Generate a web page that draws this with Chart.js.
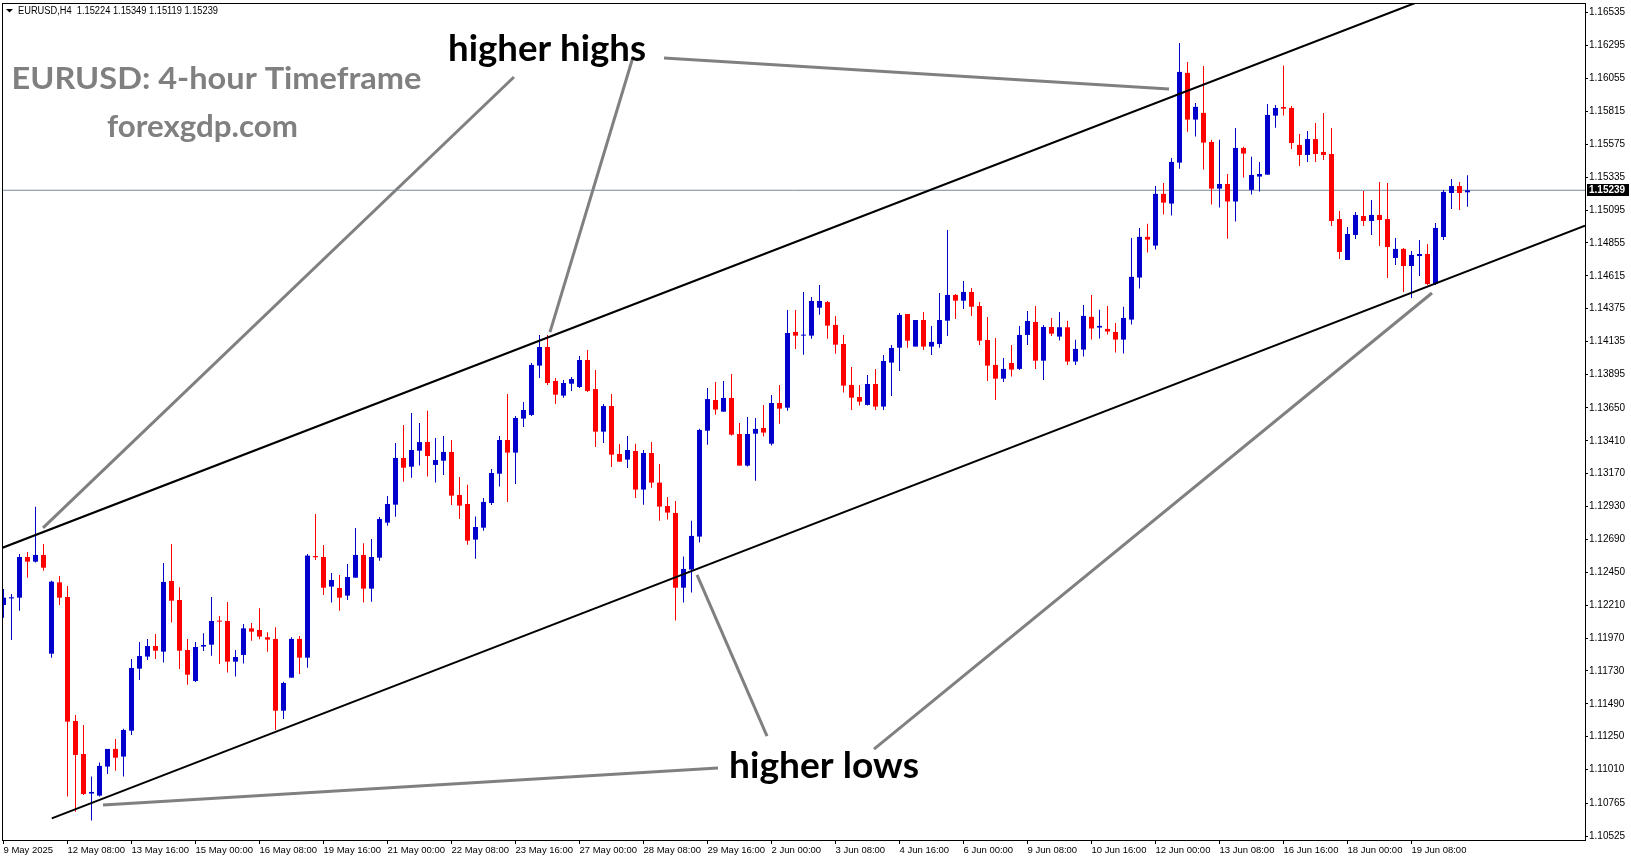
<!DOCTYPE html>
<html>
<head>
<meta charset="utf-8">
<script src="https://cdn.jsdelivr.net/npm/chart.js"></script>
<style>
  html, body { margin: 0; padding: 0; background: #fff; }
</style>
</head>
<body>
<canvas id="myChart" width="1631" height="861"></canvas>
<script>
// EURUSD H4 candles, 9 May 2025 00:00 .. 20 Jun 2025 12:00 (one entry per 4h bar)
const opens = [
  1.12212, 1.12260, 1.12265, 1.12562, 1.12528, 1.12577, 1.11856, 1.12377, 1.12270, 1.11365,
  1.11124, 1.10835, 1.10820, 1.11032, 1.11161, 1.11105, 1.11294, 1.11747, 1.11835, 1.11912,
  1.11871, 1.12387, 1.12248, 1.11883, 1.11657, 1.11908, 1.11922, 1.12095, 1.12095, 1.11798,
  1.11847, 1.12041, 1.12029, 1.11976, 1.11964, 1.11440, 1.11681, 1.11964, 1.11827, 1.12569,
  1.12562, 1.12346, 1.12336, 1.12280, 1.12411, 1.12577, 1.12331, 1.12557, 1.12813, 1.12944,
  1.13285, 1.13221, 1.13338, 1.13402, 1.13234, 1.13265, 1.13329, 1.13015, 1.12949, 1.12689,
  1.12776, 1.12956, 1.13170, 1.13416, 1.13324, 1.13572, 1.13599, 1.13959, 1.14095, 1.13847,
  1.13740, 1.13827, 1.13803, 1.14000, 1.13788, 1.13477, 1.13664, 1.13314, 1.13273, 1.13336,
  1.13054, 1.13321, 1.13105, 1.12934, 1.12883, 1.12338, 1.12470, 1.12711, 1.13484, 1.13708,
  1.13623, 1.13723, 1.13460, 1.13229, 1.13462, 1.13504, 1.13389, 1.13686, 1.13652, 1.14205,
  1.14178, 1.14178, 1.14382, 1.14423, 1.14256, 1.14117, 1.13818, 1.13730, 1.13672, 1.13825,
  1.13660, 1.13981, 1.14090, 1.14336, 1.14098, 1.14292, 1.14098, 1.14117, 1.14287, 1.14475,
  1.14433, 1.14497, 1.14394, 1.14146, 1.13964, 1.13864, 1.13978, 1.13935, 1.14183, 1.14278,
  1.13995, 1.14241, 1.14171, 1.14239, 1.13989, 1.14076, 1.14315, 1.14237, 1.14227, 1.14205,
  1.14149, 1.14295, 1.14602, 1.14899, 1.14835, 1.15213, 1.15142, 1.15441, 1.16096, 1.15755,
  1.15804, 1.15592, 1.15251, 1.15285, 1.15157, 1.15548, 1.15242, 1.15339, 1.15353, 1.15784,
  1.15847, 1.15840, 1.15570, 1.15497, 1.15613, 1.15519, 1.15504, 1.15029, 1.14730, 1.14913,
  1.15051, 1.15015, 1.15059, 1.15029, 1.14745, 1.14811, 1.14686, 1.14759, 1.14774, 1.14555,
  1.14898, 1.15219, 1.15270, 1.15224
];
const highs = [
  1.12328, 1.12292, 1.12584, 1.12598, 1.12929, 1.12657, 1.12389, 1.12423, 1.12350, 1.11409,
  1.11336, 1.10959, 1.11061, 1.11161, 1.11234, 1.11309, 1.11818, 1.11942, 1.11963, 1.12000,
  1.12518, 1.12657, 1.12341, 1.11963, 1.11942, 1.12005, 1.12270, 1.12131, 1.12234, 1.11883,
  1.12073, 1.12080, 1.12187, 1.12012, 1.12049, 1.11652, 1.11976, 1.11985, 1.12584, 1.12876,
  1.12650, 1.12445, 1.12431, 1.12511, 1.12774, 1.12662, 1.12693, 1.12854, 1.13007, 1.13394,
  1.13526, 1.13613, 1.13540, 1.13630, 1.13431, 1.13445, 1.13416, 1.13146, 1.13090, 1.12857,
  1.12993, 1.13204, 1.13445, 1.13752, 1.13591, 1.13694, 1.13978, 1.14183, 1.14183, 1.13869,
  1.13854, 1.13876, 1.14029, 1.14073, 1.13927, 1.13679, 1.13752, 1.13387, 1.13445, 1.13389,
  1.13343, 1.13402, 1.13241, 1.13000, 1.12971, 1.12565, 1.12827, 1.13499, 1.13796, 1.13840,
  1.13847, 1.13898, 1.13540, 1.13584, 1.13577, 1.13672, 1.13745, 1.13818, 1.14365, 1.14365,
  1.14496, 1.14460, 1.14548, 1.14431, 1.14321, 1.14183, 1.13949, 1.13818, 1.13891, 1.13935,
  1.14037, 1.14110, 1.14343, 1.14336, 1.14292, 1.14351, 1.14248, 1.14489, 1.14949, 1.14482,
  1.14577, 1.14526, 1.14424, 1.14314, 1.14161, 1.14015, 1.14110, 1.14248, 1.14358, 1.14394,
  1.14256, 1.14307, 1.14351, 1.14286, 1.14147, 1.14402, 1.14475, 1.14366, 1.14395, 1.14271,
  1.14388, 1.14891, 1.14964, 1.14994, 1.15271, 1.15293, 1.15475, 1.16315, 1.16176, 1.15877,
  1.16147, 1.15607, 1.15607, 1.15358, 1.15694, 1.15556, 1.15483, 1.15446, 1.15869, 1.15862,
  1.16150, 1.15854, 1.15650, 1.15672, 1.15730, 1.15803, 1.15694, 1.15088, 1.14971, 1.15081,
  1.15234, 1.15168, 1.15300, 1.15292, 1.14891, 1.14818, 1.14796, 1.14876, 1.14847, 1.15000,
  1.15241, 1.15321, 1.15300, 1.15349
];
const lows = [
  1.12119, 1.11956, 1.12170, 1.12411, 1.12521, 1.12462, 1.11827, 1.12212, 1.10813, 1.10703,
  1.10825, 1.10638, 1.10813, 1.10978, 1.11002, 1.10959, 1.11263, 1.11664, 1.11810, 1.11818,
  1.11791, 1.12083, 1.11745, 1.11630, 1.11650, 1.11876, 1.11842, 1.11781, 1.11718, 1.11689,
  1.11784, 1.11951, 1.11961, 1.11871, 1.11299, 1.11380, 1.11681, 1.11708, 1.11754, 1.12540,
  1.12285, 1.12229, 1.12170, 1.12248, 1.12411, 1.12229, 1.12236, 1.12535, 1.12791, 1.12856,
  1.13112, 1.13141, 1.13229, 1.13149, 1.13105, 1.13161, 1.12942, 1.12840, 1.12652, 1.12550,
  1.12754, 1.12942, 1.13076, 1.12964, 1.13095, 1.13511, 1.13591, 1.13869, 1.13818, 1.13679,
  1.13725, 1.13774, 1.13796, 1.13767, 1.13365, 1.13394, 1.13219, 1.13258, 1.13212, 1.12993,
  1.12944, 1.13068, 1.12827, 1.12835, 1.12098, 1.12229, 1.12302, 1.12667, 1.13382, 1.13601,
  1.13623, 1.13448, 1.13229, 1.13222, 1.13119, 1.13441, 1.13375, 1.13535, 1.13630, 1.14080,
  1.14039, 1.14156, 1.14331, 1.14156, 1.14046, 1.13762, 1.13635, 1.13667, 1.13667, 1.13635,
  1.13635, 1.13737, 1.13920, 1.14090, 1.14098, 1.14073, 1.14037, 1.14090, 1.14175, 1.14299,
  1.14372, 1.14321, 1.14110, 1.13847, 1.13708, 1.13840, 1.13879, 1.13927, 1.14110, 1.13935,
  1.13854, 1.14175, 1.14142, 1.13964, 1.13964, 1.14025, 1.14149, 1.14157, 1.14186, 1.14054,
  1.14047, 1.14259, 1.14522, 1.14784, 1.14806, 1.15062, 1.15054, 1.15397, 1.15667, 1.15631,
  1.15390, 1.15135, 1.15113, 1.14886, 1.15011, 1.15332, 1.15208, 1.15230, 1.15353, 1.15696,
  1.15784, 1.15540, 1.15416, 1.15446, 1.15446, 1.15460, 1.14978, 1.14738, 1.14730, 1.14883,
  1.14978, 1.14913, 1.14832, 1.14599, 1.14694, 1.14497, 1.14453, 1.14613, 1.14548, 1.14548,
  1.14876, 1.15102, 1.15095, 1.15119
];
const closes = [
  1.12265, 1.12268, 1.12562, 1.12528, 1.12577, 1.12484, 1.12382, 1.12265, 1.11360, 1.11117,
  1.10832, 1.10847, 1.11037, 1.11161, 1.11097, 1.11299, 1.11752, 1.11839, 1.11912, 1.11878,
  1.12380, 1.12243, 1.11878, 1.11703, 1.11905, 1.11920, 1.12095, 1.12090, 1.11798, 1.11832,
  1.12041, 1.12017, 1.11981, 1.11959, 1.11440, 1.11642, 1.11964, 1.11827, 1.12572, 1.12560,
  1.12338, 1.12394, 1.12265, 1.12416, 1.12577, 1.12331, 1.12562, 1.12839, 1.12949, 1.13285,
  1.13214, 1.13343, 1.13401, 1.13299, 1.13270, 1.13329, 1.13010, 1.12937, 1.12681, 1.12781,
  1.12964, 1.13175, 1.13416, 1.13324, 1.13577, 1.13635, 1.13964, 1.14095, 1.13832, 1.13747,
  1.13832, 1.13861, 1.14000, 1.13774, 1.13477, 1.13664, 1.13309, 1.13258, 1.13343, 1.13054,
  1.13321, 1.13105, 1.12930, 1.12886, 1.12338, 1.12475, 1.12716, 1.13489, 1.13715, 1.13638,
  1.13723, 1.13455, 1.13229, 1.13460, 1.13497, 1.13470, 1.13686, 1.13645, 1.14197, 1.14178,
  1.14183, 1.14431, 1.14431, 1.14251, 1.14112, 1.13813, 1.13725, 1.13696, 1.13825, 1.13660,
  1.13993, 1.14088, 1.14329, 1.14141, 1.14292, 1.14098, 1.14132, 1.14292, 1.14475, 1.14433,
  1.14497, 1.14389, 1.14141, 1.13959, 1.13864, 1.13935, 1.13930, 1.14183, 1.14285, 1.13995,
  1.14241, 1.14192, 1.14239, 1.13989, 1.14081, 1.14322, 1.14230, 1.14249, 1.14208, 1.14149,
  1.14307, 1.14607, 1.14899, 1.14879, 1.15213, 1.15149, 1.15446, 1.16103, 1.15755, 1.15848,
  1.15587, 1.15251, 1.15285, 1.15157, 1.15548, 1.15507, 1.15351, 1.15358, 1.15789, 1.15840,
  1.15835, 1.15584, 1.15497, 1.15613, 1.15504, 1.15497, 1.15015, 1.14789, 1.14920, 1.15059,
  1.15015, 1.15059, 1.15022, 1.14825, 1.14811, 1.14686, 1.14767, 1.14774, 1.14555, 1.14964,
  1.15227, 1.15270, 1.15219, 1.15239
];

// time axis labels, one every 8 bars starting at bar 0
const xTickLabels = ["9 May 2025", "12 May 08:00", "13 May 16:00", "15 May 00:00", "16 May 08:00",
  "19 May 16:00", "21 May 00:00", "22 May 08:00", "23 May 16:00", "27 May 00:00", "28 May 08:00",
  "29 May 16:00", "2 Jun 00:00", "3 Jun 08:00", "4 Jun 16:00", "6 Jun 00:00", "9 Jun 08:00",
  "10 Jun 16:00", "12 Jun 00:00", "13 Jun 08:00", "16 Jun 16:00", "18 Jun 00:00", "19 Jun 08:00"];
const yTickLabels = ["1.16535", "1.16295", "1.16055", "1.15815", "1.15575", "1.15335", "1.15095",
  "1.14855", "1.14615", "1.14375", "1.14135", "1.13895", "1.13650", "1.13410", "1.13170", "1.12930",
  "1.12690", "1.12450", "1.12210", "1.11970", "1.11730", "1.11490", "1.11250", "1.11010", "1.10765",
  "1.10525"];

// drawn lines as [bar index, price] end points
const channelUpper = [[-0.19, 1.12628], [176.44, 1.16606]];
const channelLower = [[6.03, 1.10654], [197.69, 1.14980]];
const pointerLines = [
  [[63.81, 1.16066], [4.94, 1.12774]],
  [[78.69, 1.16212], [68.31, 1.14204]],
  [[82.56, 1.16205], [145.69, 1.15978]],
  [[89.31, 1.11022], [12.44, 1.10752]],
  [[95.44, 1.11255], [86.69, 1.12431]],
  [[108.81, 1.11160], [178.56, 1.14489]]
];

const X_MIN = -0.1875, X_MAX = 197.6875;
const Y_MIN = 1.104961, Y_MAX = 1.166061;
const BULL = '#0000cd', BEAR = '#ff0000';

const last = closes.length - 1;
const candleColors = opens.map((o, i) => closes[i] >= o ? BULL : BEAR);
const wickData = opens.map((o, i) => ({ x: i, y: [lows[i], highs[i]] }));
const bodyData = opens.map((o, i) => ({ x: i, y: [o, closes[i]] }));

function lineSet(pts, color, width, order) {
  return {
    type: 'line',
    data: pts.map(p => ({ x: p[0], y: p[1] })),
    borderColor: color,
    borderWidth: width,
    pointRadius: 0,
    tension: 0,
    fill: false,
    clip: 0,
    order: order
  };
}

function fitText(c, text, x, base, asc, w, color) {
  c.font = 'bold 100px Lato';
  const m = c.measureText(text);
  const size = 100 * asc / m.actualBoundingBoxAscent;
  c.font = 'bold ' + size.toFixed(2) + 'px Lato';
  const sx = w / c.measureText(text).width;
  c.save();
  c.translate(x, base);
  c.scale(sx, 1);
  c.fillStyle = color;
  c.textBaseline = 'alphabetic';
  c.fillText(text, 0, 0);
  c.restore();
}

const overlay = {
  id: 'overlay',
  afterDraw(chart) {
    const c = chart.ctx, a = chart.chartArea, ys = chart.scales.y;
    c.save();
    c.strokeStyle = '#000';
    c.lineWidth = 1;
    c.strokeRect(a.left + 0.5, a.top + 0.5, a.right - a.left, a.bottom - a.top);

    // current price box
    const py = Math.round(ys.getPixelForValue(closes[last]));
    c.fillStyle = '#000';
    c.fillRect(a.right + 2, py - 6, 42, 12);
    c.fillStyle = '#fff';
    c.font = 'bold 10px "Liberation Sans"';
    c.textBaseline = 'middle';
    c.textAlign = 'left';
    c.fillText(closes[last].toFixed(5), a.right + 4, py);

    // header
    c.fillStyle = '#000';
    c.beginPath();
    c.moveTo(6, 9); c.lineTo(13, 9); c.lineTo(9.5, 12.5); c.closePath();
    c.fill();
    const head = 'EURUSD,H4  ' + opens[last].toFixed(5) + ' ' + highs[last].toFixed(5) + ' ' +
      lows[last].toFixed(5) + ' ' + closes[last].toFixed(5);
    c.font = '10px "Liberation Sans"';
    c.textBaseline = 'alphabetic';
    const hw = c.measureText(head).width;
    c.save();
    c.translate(18, 14);
    c.scale(200 / hw, 1);
    c.fillText(head, 0, 0);
    c.restore();

    fitText(c, 'EURUSD: 4-hour Timeframe', 11.5, 88.5, 22.5, 410, '#808080');
    fitText(c, 'forexgdp.com', 107, 136.5, 23, 191, '#808080');
    fitText(c, 'higher highs', 448, 60.5, 27, 198, '#000');
    fitText(c, 'higher lows', 729, 778, 27, 190, '#000');
    c.restore();
  }
};

const datasets = [
  ...pointerLines.map(p => lineSet(p, '#808080', 3, 0)),
  lineSet(channelUpper, '#000', 2, 1),
  lineSet(channelLower, '#000', 2, 1),
  {
    type: 'bar', data: bodyData, backgroundColor: candleColors, barThickness: 5,
    grouped: false, inflateAmount: 0, borderWidth: 0, minBarLength: 1, clip: 0, order: 2
  },
  {
    type: 'bar', data: wickData, backgroundColor: candleColors, barThickness: 1,
    grouped: false, inflateAmount: 0, borderWidth: 0, clip: 0, order: 3
  },
  lineSet([[X_MIN, closes[last]], [X_MAX, closes[last]]], '#778899', 1, 4)
];

new Chart(document.getElementById('myChart'), {
  type: 'bar',
  data: { datasets: datasets },
  options: {
    responsive: false,
    animation: false,
    events: [],
    layout: { padding: { left: 2, top: 3, right: 0, bottom: 0 } },
    plugins: { legend: { display: false }, tooltip: { enabled: false } },
    scales: {
      x: {
        type: 'linear',
        min: X_MIN,
        max: X_MAX,
        bounds: 'data',
        offset: false,
        afterBuildTicks: s => { s.ticks = xTickLabels.map((t, k) => ({ value: k * 8 })); },
        afterFit: s => { s.height = 21; s.paddingLeft = 0; s.paddingRight = 0; },
        ticks: {
          autoSkip: false, maxRotation: 0, minRotation: 0, align: 'start', padding: 1,
          color: '#000', font: { family: '"Liberation Sans", Arial, sans-serif', size: 9.5 },
          callback: (v, k) => xTickLabels[k]
        },
        grid: { display: true, offset: false, drawOnChartArea: false, drawTicks: true, tickLength: 4, color: '#000' },
        border: { display: false }
      },
      y: {
        type: 'linear',
        position: 'right',
        min: Y_MIN,
        max: Y_MAX,
        bounds: 'data',
        afterBuildTicks: s => { s.ticks = yTickLabels.map(t => ({ value: parseFloat(t) })); },
        afterFit: s => { s.width = 46; s.paddingTop = 0; s.paddingBottom = 0; },
        ticks: {
          autoSkip: false, padding: 1, color: '#000',
          font: { family: '"Liberation Sans", Arial, sans-serif', size: 10 },
          callback: (v, k) => yTickLabels[k]
        },
        grid: { display: true, drawOnChartArea: false, drawTicks: true, tickLength: 3, color: '#000' },
        border: { display: false }
      }
    }
  },
  plugins: [overlay]
});
</script>
</body>
</html>
